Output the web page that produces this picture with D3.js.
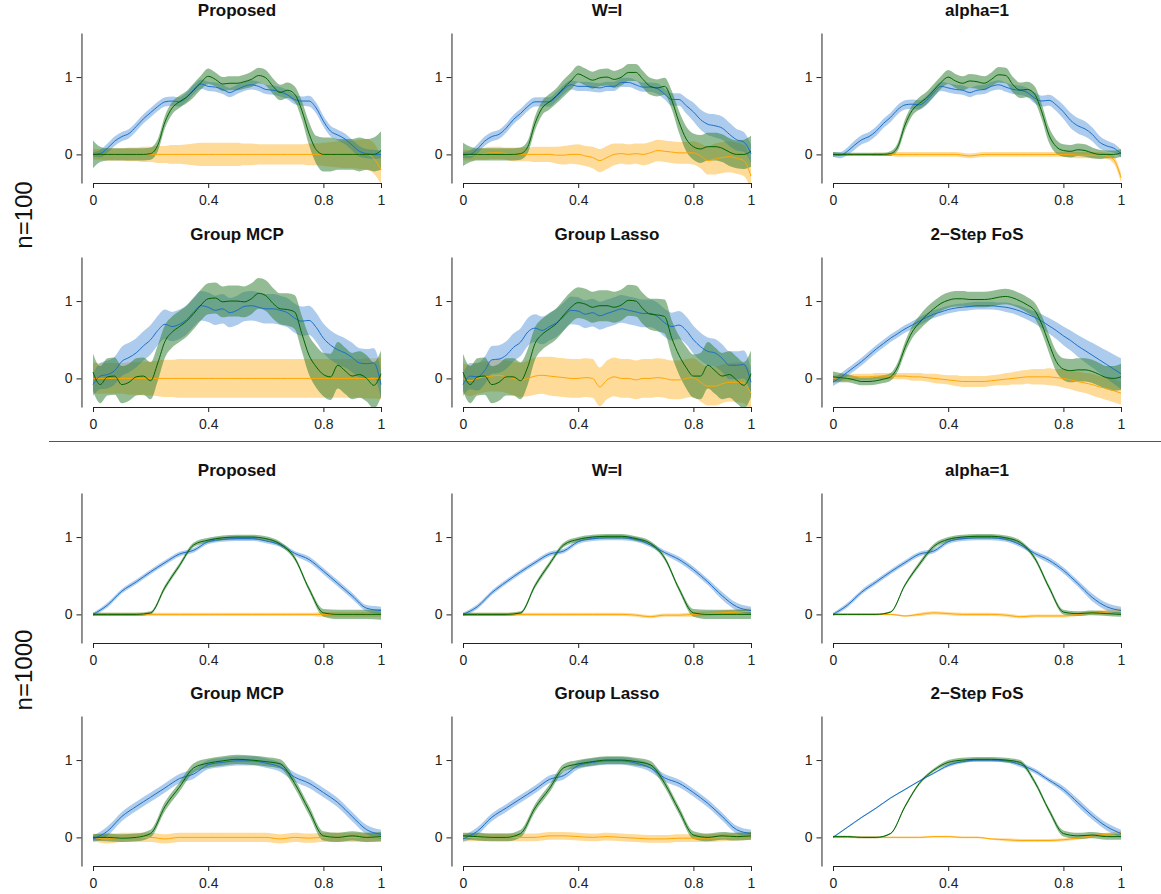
<!DOCTYPE html>
<html>
<head>
<meta charset="utf-8">
<script src="https://cdn.jsdelivr.net/npm/d3@7"></script>
<style>
  body { margin: 0; background: #fff; }
  text { font-family: "Liberation Sans", Arial, sans-serif; }
</style>
</head>
<body>
<div id="chart"></div>
<script>
// ---- labels ----
const panelTitles = ["Proposed", "W=I", "alpha=1", "Group MCP", "Group Lasso", "2\u2212Step FoS"];
const sampleSizes = ["n=100", "n=1000"];
const xTicks = [0, 0.4, 0.8, 1];
const yTicks = [0, 1];

// ---- n = 100 (grid step 0.025) : mean and band half-width ----
const n100ProposedBlue = [0.00,0.01,0.08,0.17,0.23,0.27,0.36,0.46,0.54,0.62, 0.68,0.69,0.68,0.74,0.84,0.91,0.88,0.87,0.84,0.80, 0.84,0.88,0.90,0.88,0.84,0.83,0.81,0.77,0.71,0.69, 0.69,0.60,0.43,0.30,0.25,0.20,0.12,0.04,0.01,0.00, 0.00];
const n100ProposedBlueW = [0.03,0.05,0.06,0.06,0.06,0.06,0.06,0.06,0.06,0.06, 0.06,0.06,0.06,0.06,0.06,0.06,0.06,0.06,0.06,0.06, 0.06,0.06,0.06,0.06,0.06,0.06,0.06,0.06,0.06,0.06, 0.07,0.07,0.07,0.07,0.07,0.07,0.07,0.07,0.06,0.06, 0.05];
const n100ProposedGreen = [0,0,0,0,0,0,0,0,0.01,0.12, 0.42,0.60,0.68,0.74,0.83,0.93,1.01,0.97,0.91,0.92, 0.92,0.94,0.97,1.02,0.99,0.88,0.80,0.83,0.78,0.57, 0.27,0.06,0,0,0,0,0,0,0,0, 0.05];
const n100ProposedGreenW = [0.18,0.10,0.08,0.08,0.08,0.08,0.08,0.08,0.08,0.08, 0.08,0.08,0.08,0.08,0.09,0.09,0.10,0.09,0.09,0.09, 0.09,0.09,0.10,0.10,0.10,0.10,0.10,0.10,0.10,0.12, 0.15,0.18,0.22,0.22,0.20,0.20,0.20,0.22,0.20,0.22, 0.25];
const n100ProposedOrange = [0,0,0,0,0,0,0,0,0,0, 0,0,0,0,0,0,0,0,0,0, 0,0,0,0,0,0,0,0,0,0, 0,0,0,0,0,0,0,0,0,-0.05, -0.20];
const n100ProposedOrangeW = [0.07,0.07,0.08,0.08,0.08,0.09,0.09,0.10,0.10,0.11, 0.11,0.12,0.12,0.13,0.14,0.15,0.15,0.15,0.15,0.15, 0.15,0.14,0.14,0.13,0.13,0.13,0.13,0.13,0.13,0.13, 0.14,0.14,0.15,0.16,0.17,0.18,0.18,0.19,0.20,0.20, 0.18];

const n100WIBlue = [-0.01,0.00,0.07,0.17,0.23,0.26,0.34,0.45,0.53,0.62, 0.68,0.68,0.68,0.75,0.84,0.90,0.88,0.88,0.87,0.86, 0.88,0.88,0.93,0.93,0.90,0.87,0.87,0.85,0.78,0.71, 0.71,0.63,0.55,0.45,0.39,0.37,0.34,0.26,0.19,0.16, 0.01];
const n100WIBlueW = [0.04,0.05,0.06,0.06,0.06,0.06,0.06,0.06,0.06,0.06, 0.06,0.06,0.06,0.06,0.06,0.06,0.06,0.06,0.06,0.06, 0.06,0.06,0.06,0.06,0.06,0.06,0.06,0.07,0.07,0.08, 0.08,0.10,0.12,0.13,0.14,0.15,0.15,0.15,0.14,0.13, 0.12];
const n100WIGreen = [0,0,0,0,0,0,0,0,0.01,0.10, 0.40,0.60,0.68,0.76,0.86,0.95,1.04,1.00,0.96,0.99, 1.00,0.97,1.00,1.06,1.06,0.97,0.88,0.86,0.88,0.70, 0.42,0.20,0.10,0.07,0.10,0.10,0.08,0.03,0.00,0.00, 0.04];
const n100WIGreenW = [0.15,0.10,0.08,0.08,0.08,0.08,0.08,0.08,0.08,0.08, 0.09,0.09,0.10,0.10,0.11,0.11,0.11,0.11,0.11,0.11, 0.11,0.11,0.11,0.11,0.11,0.11,0.11,0.11,0.11,0.12, 0.14,0.16,0.17,0.18,0.18,0.18,0.18,0.18,0.18,0.19, 0.20];
const n100WIOrange = [-0.01,-0.01,0.00,0.01,0.02,0.02,0.01,0.00,0.00,0.00, 0.00,0.00,0.00,-0.01,-0.01,0.00,0.00,-0.02,-0.04,-0.08, -0.04,0.00,0.01,0.00,0.01,0.00,0.02,0.05,0.04,0.03, 0.02,0.02,0.02,-0.02,-0.08,-0.06,-0.04,-0.03,-0.05,-0.08, -0.28];
const n100WIOrangeW = [0.07,0.07,0.07,0.08,0.08,0.08,0.08,0.09,0.09,0.09, 0.10,0.10,0.10,0.11,0.12,0.12,0.13,0.13,0.14,0.15, 0.15,0.14,0.13,0.13,0.13,0.14,0.14,0.14,0.14,0.14, 0.14,0.14,0.15,0.16,0.18,0.20,0.20,0.20,0.20,0.20, 0.18];

const n100AlphaBlue = [0.00,-0.01,0.04,0.12,0.19,0.23,0.30,0.40,0.48,0.58, 0.64,0.65,0.64,0.70,0.80,0.88,0.86,0.84,0.83,0.80, 0.83,0.84,0.88,0.90,0.87,0.84,0.83,0.80,0.73,0.69, 0.70,0.64,0.55,0.44,0.37,0.33,0.26,0.16,0.11,0.08, 0.01];
const n100AlphaBlueW = [0.03,0.04,0.05,0.06,0.06,0.06,0.06,0.06,0.06,0.06, 0.06,0.06,0.06,0.06,0.06,0.06,0.06,0.06,0.06,0.06, 0.06,0.06,0.06,0.06,0.06,0.06,0.06,0.06,0.07,0.07, 0.07,0.08,0.09,0.10,0.10,0.10,0.09,0.08,0.07,0.06, 0.05];
const n100AlphaGreen = [0,0,0,0,0,0,0,0,0.01,0.10, 0.38,0.57,0.66,0.73,0.83,0.93,1.00,0.95,0.92,0.95, 0.94,0.92,0.97,1.03,1.02,0.90,0.83,0.84,0.78,0.55, 0.25,0.10,0.05,0.04,0.06,0.05,0.02,0.00,0.00,0.00, 0.02];
const n100AlphaGreenW = [0.03,0.02,0.02,0.02,0.02,0.02,0.02,0.02,0.03,0.05, 0.07,0.07,0.08,0.08,0.08,0.08,0.09,0.09,0.09,0.09, 0.09,0.09,0.09,0.10,0.10,0.10,0.10,0.10,0.10,0.10, 0.10,0.09,0.08,0.08,0.08,0.08,0.07,0.06,0.05,0.05, 0.05];
const n100AlphaOrange = [0,0,0,0,0,0,0,0,0,0, 0,0,0,0,0,0,0,0,-0.01,-0.02, -0.01,0,0,0,0,0,0,0,0,0, 0,0,0,0,-0.01,-0.01,-0.01,-0.01,-0.02,-0.07, -0.30];
const n100AlphaOrangeW = [0.01,0.01,0.01,0.01,0.01,0.01,0.02,0.02,0.02,0.03, 0.03,0.03,0.03,0.03,0.03,0.03,0.03,0.03,0.03,0.03, 0.03,0.03,0.03,0.03,0.03,0.03,0.03,0.03,0.03,0.03, 0.03,0.03,0.03,0.04,0.04,0.04,0.04,0.04,0.04,0.05, 0.06];

const n100MCPBlue = [-0.08,0.03,0.05,0.10,0.22,0.27,0.33,0.42,0.50,0.62, 0.70,0.67,0.70,0.76,0.86,0.94,0.92,0.88,0.90,0.85, 0.88,0.93,0.94,0.92,0.90,0.90,0.88,0.85,0.78,0.74, 0.75,0.66,0.52,0.43,0.37,0.33,0.27,0.20,0.19,0.20, -0.08];
const n100MCPBlueW = [0.15,0.17,0.18,0.18,0.19,0.19,0.19,0.19,0.19,0.19, 0.19,0.19,0.19,0.19,0.19,0.19,0.19,0.19,0.19,0.19, 0.19,0.19,0.19,0.19,0.19,0.19,0.19,0.19,0.19,0.19, 0.19,0.19,0.19,0.19,0.19,0.19,0.19,0.19,0.19,0.19, 0.18];
const n100MCPGreen = [0.08,-0.08,0.02,0.03,-0.08,-0.05,0.02,0.03,-0.03,0.20, 0.48,0.60,0.67,0.74,0.84,0.95,1.03,1.04,0.99,1.00, 1.00,0.99,1.03,1.10,1.07,0.97,0.90,0.89,0.86,0.58, 0.30,0.15,0.05,0.02,0.17,0.10,0.03,0.05,0.00,-0.09, 0.06];
const n100MCPGreenW = [0.24,0.24,0.24,0.24,0.24,0.24,0.24,0.24,0.24,0.23, 0.21,0.20,0.20,0.20,0.20,0.20,0.20,0.20,0.20,0.20, 0.20,0.20,0.20,0.20,0.20,0.20,0.20,0.21,0.22,0.23, 0.25,0.27,0.28,0.30,0.30,0.30,0.30,0.30,0.30,0.30, 0.30];
const n100MCPOrange = [0,0,0,0,0,0,0,0,0,0, 0,0,0,0,0,0,0,0,0,0, 0,0,0,0,0,0,0,0,0,0, 0,0,0,0,0,0,0,0,0,0, 0];
const n100MCPOrangeW = [0.20,0.20,0.20,0.20,0.20,0.21,0.21,0.22,0.22,0.23, 0.24,0.24,0.25,0.25,0.25,0.25,0.25,0.25,0.25,0.25, 0.25,0.25,0.25,0.25,0.25,0.25,0.25,0.25,0.25,0.25, 0.25,0.25,0.25,0.25,0.25,0.25,0.25,0.25,0.26,0.26, 0.27];

const n100LassoBlue = [-0.08,0.03,0.02,0.10,0.24,0.25,0.30,0.40,0.47,0.60, 0.65,0.62,0.67,0.72,0.80,0.88,0.87,0.83,0.85,0.81, 0.84,0.87,0.90,0.88,0.86,0.84,0.84,0.80,0.72,0.67, 0.69,0.62,0.50,0.41,0.35,0.33,0.26,0.17,0.17,0.18, -0.05];
const n100LassoBlueW = [0.15,0.17,0.18,0.18,0.18,0.18,0.18,0.18,0.18,0.18, 0.18,0.18,0.18,0.18,0.18,0.18,0.18,0.18,0.18,0.18, 0.18,0.18,0.18,0.18,0.18,0.18,0.18,0.18,0.18,0.18, 0.18,0.18,0.18,0.18,0.18,0.18,0.18,0.18,0.18,0.18, 0.18];
const n100LassoGreen = [0.08,-0.08,0.02,0.03,-0.08,-0.05,0.02,0.02,-0.03,0.15, 0.45,0.57,0.64,0.71,0.82,0.92,0.98,0.96,0.92,0.94, 0.94,0.92,0.95,1.01,1.00,0.90,0.83,0.82,0.80,0.52, 0.30,0.14,0.03,0.03,0.17,0.10,0.03,0.05,-0.02,-0.09, 0.06];
const n100LassoGreenW = [0.24,0.24,0.24,0.24,0.24,0.24,0.24,0.24,0.24,0.23, 0.21,0.20,0.20,0.20,0.20,0.20,0.20,0.20,0.20,0.20, 0.20,0.20,0.20,0.20,0.20,0.20,0.20,0.21,0.22,0.23, 0.25,0.27,0.28,0.30,0.30,0.30,0.30,0.30,0.30,0.30, 0.30];
const n100LassoOrange = [0.00,-0.03,0.00,0.02,0.03,0.04,0.02,0.00,-0.02,0.00, 0.03,0.04,0.03,0.02,0.01,0.00,0.00,0.01,0.00,-0.11, -0.02,0.02,0.00,0.00,-0.02,0.00,0.00,0.01,0.00,-0.02, -0.02,0.00,0.01,-0.05,-0.10,-0.10,-0.07,-0.05,-0.05,-0.06, -0.20];
const n100LassoOrangeW = [0.20,0.20,0.20,0.20,0.20,0.21,0.21,0.22,0.22,0.23, 0.24,0.24,0.25,0.25,0.25,0.25,0.25,0.25,0.25,0.25, 0.25,0.25,0.25,0.25,0.25,0.25,0.25,0.25,0.25,0.25, 0.25,0.25,0.25,0.25,0.25,0.25,0.25,0.25,0.26,0.26, 0.27];

const n100StepBlue = [-0.05,0.01,0.08,0.15,0.22,0.30,0.38,0.45,0.52,0.58, 0.64,0.69,0.74,0.79,0.83,0.86,0.89,0.91,0.92,0.93, 0.94,0.94,0.94,0.93,0.92,0.90,0.87,0.83,0.79,0.74, 0.68,0.62,0.55,0.49,0.42,0.36,0.30,0.24,0.18,0.12, 0.06];
const n100StepBlueW = [0.05,0.05,0.05,0.05,0.05,0.05,0.05,0.05,0.05,0.05, 0.05,0.05,0.05,0.05,0.05,0.05,0.05,0.05,0.05,0.05, 0.05,0.05,0.05,0.05,0.06,0.06,0.07,0.07,0.08,0.09, 0.10,0.11,0.12,0.13,0.14,0.15,0.16,0.17,0.18,0.19, 0.20];
const n100StepGreen = [0.02,0.01,0.00,-0.02,-0.04,-0.04,-0.03,-0.01,0.02,0.15, 0.40,0.60,0.72,0.82,0.90,0.97,1.01,1.03,1.03,1.02, 1.02,1.02,1.03,1.05,1.06,1.04,1.00,0.95,0.88,0.70, 0.45,0.22,0.12,0.10,0.11,0.11,0.09,0.05,0.01,0.00, 0.02];
const n100StepGreenW = [0.07,0.06,0.05,0.05,0.05,0.05,0.05,0.05,0.05,0.06, 0.07,0.08,0.09,0.10,0.10,0.10,0.10,0.10,0.10,0.10, 0.10,0.10,0.10,0.10,0.10,0.10,0.10,0.10,0.10,0.11, 0.12,0.13,0.14,0.15,0.15,0.15,0.15,0.15,0.15,0.16, 0.17];
const n100StepOrange = [0.00,0.01,0.01,0.02,0.02,0.02,0.03,0.03,0.03,0.03, 0.03,0.02,0.02,0.01,0.00,-0.01,-0.02,-0.03,-0.04,-0.04, -0.04,-0.04,-0.03,-0.02,-0.01,0.00,0.01,0.02,0.02,0.02, 0.02,0.01,0.00,-0.02,-0.04,-0.06,-0.08,-0.11,-0.13,-0.16, -0.19];
const n100StepOrangeW = [0.04,0.04,0.04,0.04,0.04,0.04,0.04,0.04,0.04,0.04, 0.04,0.05,0.05,0.05,0.06,0.06,0.06,0.07,0.07,0.07, 0.07,0.07,0.07,0.07,0.08,0.08,0.09,0.09,0.10,0.10, 0.11,0.11,0.12,0.12,0.13,0.13,0.14,0.14,0.15,0.15, 0.15];

// ---- n = 1000 (grid step 0.05) ----
const n1000ProposedBlue = [0.00,0.12,0.30,0.42,0.55,0.67,0.78,0.83,0.94,0.97, 0.98,0.98,0.95,0.90,0.79,0.71,0.56,0.40,0.24,0.08, 0.05];
const n1000ProposedBlueW = [0.02,0.03,0.03,0.03,0.03,0.03,0.03,0.03,0.03,0.03, 0.03,0.03,0.03,0.03,0.03,0.04,0.04,0.04,0.04,0.04, 0.05];
const n1000ProposedGreen = [0,0,0,0,0.02,0.35,0.63,0.90,0.96,0.99, 1.00,1.00,0.98,0.91,0.73,0.33,0.02,0,0,0, 0];
const n1000ProposedGreenW = [0.02,0.02,0.02,0.02,0.02,0.03,0.03,0.03,0.03,0.03, 0.03,0.03,0.03,0.03,0.03,0.03,0.05,0.06,0.06,0.06, 0.07];
const n1000ProposedOrange = [0,0,0,0,0,0,0,0,0,0, 0,0,0,0,0,0,0,0,0,0, 0];
const n1000ProposedOrangeW = [0.02,0.02,0.02,0.02,0.02,0.02,0.02,0.02,0.02,0.02, 0.02,0.02,0.02,0.02,0.02,0.02,0.03,0.03,0.03,0.03, 0.03];

const n1000WIBlue = [0.00,0.10,0.28,0.42,0.55,0.67,0.78,0.82,0.94,0.98, 0.99,0.99,0.97,0.90,0.80,0.71,0.58,0.42,0.24,0.10, 0.05];
const n1000WIBlueW = [0.02,0.03,0.03,0.03,0.03,0.03,0.03,0.03,0.03,0.03, 0.03,0.03,0.03,0.03,0.03,0.04,0.04,0.04,0.05,0.05, 0.05];
const n1000WIGreen = [0,0,0,0,0.02,0.37,0.65,0.90,0.97,1.00, 1.01,1.01,0.98,0.92,0.73,0.33,0.02,0,0,0, 0];
const n1000WIGreenW = [0.02,0.02,0.02,0.02,0.02,0.03,0.03,0.03,0.03,0.03, 0.03,0.03,0.03,0.03,0.03,0.03,0.05,0.06,0.06,0.06, 0.06];
const n1000WIOrange = [0,0,0,0,0,0,0,0,0,0, 0,0,-0.01,-0.03,-0.01,-0.01,0,0.01,0.02,0.03, 0.04];
const n1000WIOrangeW = [0.02,0.02,0.02,0.02,0.02,0.02,0.02,0.02,0.02,0.02, 0.02,0.02,0.02,0.02,0.02,0.02,0.03,0.03,0.03,0.04, 0.04];

const n1000AlphaBlue = [0.00,0.12,0.29,0.42,0.55,0.67,0.78,0.82,0.94,0.98, 0.99,0.99,0.97,0.90,0.79,0.70,0.57,0.40,0.22,0.10, 0.05];
const n1000AlphaBlueW = [0.02,0.03,0.03,0.03,0.03,0.03,0.03,0.03,0.03,0.03, 0.03,0.03,0.03,0.03,0.03,0.04,0.04,0.04,0.05,0.05, 0.05];
const n1000AlphaGreen = [0,0,0,0,0.03,0.38,0.65,0.88,0.97,1.00, 1.01,1.01,0.99,0.93,0.73,0.35,0.03,0.01,0.02,0.01, 0.00];
const n1000AlphaGreenW = [0.01,0.01,0.01,0.01,0.01,0.02,0.03,0.03,0.03,0.03, 0.03,0.03,0.03,0.03,0.03,0.03,0.03,0.03,0.03,0.03, 0.03];
const n1000AlphaOrange = [0,0,0,0,0,-0.02,0,0.02,0.01,0, 0,0,-0.01,-0.03,-0.02,-0.02,-0.02,0,0.02,0.03, 0.05];
const n1000AlphaOrangeW = [0.01,0.01,0.01,0.01,0.01,0.01,0.02,0.02,0.02,0.02, 0.02,0.02,0.02,0.02,0.02,0.02,0.02,0.02,0.02,0.03, 0.03];

const n1000MCPBlue = [-0.02,0.08,0.27,0.40,0.52,0.64,0.76,0.82,0.94,0.97, 0.99,0.99,0.96,0.91,0.78,0.70,0.58,0.45,0.27,0.10, 0.04];
const n1000MCPBlueW = [0.04,0.06,0.06,0.06,0.06,0.06,0.06,0.06,0.06,0.06, 0.06,0.06,0.06,0.06,0.06,0.06,0.06,0.06,0.06,0.06, 0.06];
const n1000MCPGreen = [0,0,-0.01,0,0.05,0.40,0.65,0.90,0.96,0.99, 1.01,1.00,0.98,0.95,0.70,0.35,0.02,0,0.02,0, 0.01];
const n1000MCPGreenW = [0.04,0.05,0.05,0.05,0.05,0.06,0.06,0.06,0.06,0.06, 0.06,0.06,0.06,0.06,0.06,0.06,0.06,0.06,0.06,0.06, 0.06];
const n1000MCPOrange = [0,-0.02,0,0,0,-0.02,0,0,0,0, 0,0,0,-0.02,0,-0.01,0,0,0,0, 0];
const n1000MCPOrangeW = [0.05,0.06,0.06,0.06,0.06,0.06,0.06,0.06,0.06,0.06, 0.06,0.06,0.06,0.06,0.06,0.06,0.06,0.06,0.06,0.06, 0.06];

const n1000LassoBlue = [-0.02,0.08,0.26,0.38,0.50,0.62,0.75,0.80,0.93,0.97, 0.99,0.99,0.96,0.90,0.77,0.70,0.58,0.44,0.27,0.10, 0.05];
const n1000LassoBlueW = [0.04,0.05,0.05,0.05,0.05,0.05,0.05,0.05,0.05,0.05, 0.05,0.05,0.05,0.05,0.05,0.05,0.05,0.05,0.05,0.05, 0.05];
const n1000LassoGreen = [0.02,0.01,0,0,0.05,0.38,0.63,0.90,0.95,0.98, 1.00,1.00,0.98,0.94,0.70,0.35,0.03,0,0.02,0.01, 0.02];
const n1000LassoGreenW = [0.04,0.05,0.05,0.05,0.05,0.05,0.05,0.05,0.05,0.05, 0.05,0.05,0.05,0.05,0.05,0.05,0.05,0.05,0.05,0.05, 0.05];
const n1000LassoOrange = [0,0,0,0,0,0,0.02,0.02,0.01,0, 0.01,0,-0.01,-0.02,-0.02,-0.01,-0.01,-0.01,0,0.01, 0.02];
const n1000LassoOrangeW = [0.05,0.05,0.05,0.05,0.05,0.05,0.05,0.05,0.05,0.05, 0.05,0.05,0.05,0.05,0.05,0.05,0.05,0.05,0.05,0.05, 0.05];

const n1000StepBlue = [0.00,0.13,0.26,0.38,0.51,0.62,0.73,0.83,0.93,0.98, 1.00,1.00,0.99,0.94,0.86,0.74,0.62,0.45,0.28,0.14, 0.05];
const n1000StepBlueW = [0.01,0.01,0.01,0.01,0.01,0.01,0.01,0.01,0.02,0.02, 0.02,0.02,0.02,0.03,0.03,0.03,0.04,0.05,0.05,0.05, 0.05];
const n1000StepGreen = [0.01,0.01,0,0,0.05,0.40,0.70,0.87,0.97,1.00, 1.01,1.01,1.00,0.97,0.72,0.35,0.05,0.02,0.03,0.01, 0.01];
const n1000StepGreenW = [0.01,0.01,0.01,0.01,0.01,0.02,0.02,0.02,0.03,0.03, 0.03,0.03,0.03,0.03,0.03,0.03,0.04,0.04,0.04,0.04, 0.04];
const n1000StepOrange = [0,0,0,0,0,0,0,0.01,0.01,0, 0,-0.02,-0.03,-0.04,-0.04,-0.04,-0.03,-0.01,0.02,0.04, 0.06];
const n1000StepOrangeW = [0.01,0.01,0.01,0.01,0.01,0.01,0.01,0.01,0.01,0.01, 0.01,0.01,0.02,0.02,0.02,0.02,0.02,0.02,0.02,0.02, 0.02];

// panel order: row by row, left to right
const panels = [
  [n100ProposedOrange, n100ProposedOrangeW, n100ProposedBlue, n100ProposedBlueW, n100ProposedGreen, n100ProposedGreenW],
  [n100WIOrange, n100WIOrangeW, n100WIBlue, n100WIBlueW, n100WIGreen, n100WIGreenW],
  [n100AlphaOrange, n100AlphaOrangeW, n100AlphaBlue, n100AlphaBlueW, n100AlphaGreen, n100AlphaGreenW],
  [n100MCPOrange, n100MCPOrangeW, n100MCPBlue, n100MCPBlueW, n100MCPGreen, n100MCPGreenW],
  [n100LassoOrange, n100LassoOrangeW, n100LassoBlue, n100LassoBlueW, n100LassoGreen, n100LassoGreenW],
  [n100StepOrange, n100StepOrangeW, n100StepBlue, n100StepBlueW, n100StepGreen, n100StepGreenW],
  [n1000ProposedOrange, n1000ProposedOrangeW, n1000ProposedBlue, n1000ProposedBlueW, n1000ProposedGreen, n1000ProposedGreenW],
  [n1000WIOrange, n1000WIOrangeW, n1000WIBlue, n1000WIBlueW, n1000WIGreen, n1000WIGreenW],
  [n1000AlphaOrange, n1000AlphaOrangeW, n1000AlphaBlue, n1000AlphaBlueW, n1000AlphaGreen, n1000AlphaGreenW],
  [n1000MCPOrange, n1000MCPOrangeW, n1000MCPBlue, n1000MCPBlueW, n1000MCPGreen, n1000MCPGreenW],
  [n1000LassoOrange, n1000LassoOrangeW, n1000LassoBlue, n1000LassoBlueW, n1000LassoGreen, n1000LassoGreenW],
  [n1000StepOrange, n1000StepOrangeW, n1000StepBlue, n1000StepBlueW, n1000StepGreen, n1000StepGreenW]
];

// orange, blue, green (drawn in that order)
const fills = ["#ffa500", "#4a8fd8", "#2a7a2a"];
const fillOpacity = [0.4, 0.45, 0.5];
const strokes = ["#ffa500", "#1c6fc7", "#006400"];

const width = 1161;
const height = 894;
const colLeft = [93, 463, 833];
const rowTop = [33, 257, 493, 716];
const plotW = 288;
const plotH = 150;

const svg = d3.select("#chart")
  .append("svg")
  .attr("width", width)
  .attr("height", height);

const toPoints = (mean, w) => mean.map((m, i) => ({ t: i / (mean.length - 1), m: m, lo: m - w[i], hi: m + w[i] }));

panels.forEach((series, i) => {
  const row = Math.floor(i / 3);
  const col = i % 3;
  const x = d3.scaleLinear().domain([0, 1]).range([colLeft[col], colLeft[col] + plotW]);
  const y = d3.scaleLinear().domain([-0.37, 1.57]).range([rowTop[row] + plotH, rowTop[row]]);

  const g = svg.append("g");

  g.append("clipPath")
    .attr("id", "clip" + i)
    .append("rect")
    .attr("x", x(-0.04))
    .attr("y", y(1.57))
    .attr("width", x(1.04) - x(-0.04))
    .attr("height", y(-0.37) - y(1.57));

  const plot = g.append("g").attr("clip-path", `url(#clip${i})`);

  const area = d3.area()
    .x((d) => x(d.t))
    .y0((d) => y(d.lo))
    .y1((d) => y(d.hi))
    .curve(d3.curveMonotoneX);

  const line = d3.line()
    .x((d) => x(d.t))
    .y((d) => y(d.m))
    .curve(d3.curveMonotoneX);

  const pts = [0, 1, 2].map((k) => toPoints(series[k * 2], series[k * 2 + 1]));

  pts.forEach((p, k) => {
    plot.append("path")
      .attr("d", area(p))
      .attr("fill", fills[k])
      .attr("fill-opacity", fillOpacity[k])
      .attr("stroke", "none");
  });

  pts.forEach((p, k) => {
    plot.append("path")
      .attr("d", line(p))
      .attr("fill", "none")
      .attr("stroke", strokes[k])
      .attr("stroke-width", 1);
  });

  // axes
  g.append("g")
    .attr("transform", `translate(${x(-0.04)},0)`)
    .call(d3.axisLeft(y).tickValues(yTicks).tickFormat(d3.format("~g")).tickSize(5).tickSizeOuter(0).tickPadding(4))
    .call((a) => a.selectAll("text").attr("font-size", 14).attr("fill", "#222").attr("font-family", "Liberation Sans, Arial, sans-serif"))
    .call((a) => a.selectAll("path,line").attr("stroke", "#222"));

  g.append("g")
    .attr("transform", `translate(0,${rowTop[row] + plotH})`)
    .call(d3.axisBottom(x).tickValues(xTicks).tickFormat(d3.format("~g")).tickSize(5).tickSizeOuter(0).tickPadding(7))
    .call((a) => a.selectAll("text").attr("font-size", 14).attr("fill", "#222").attr("font-family", "Liberation Sans, Arial, sans-serif"))
    .call((a) => a.selectAll("path,line").attr("stroke", "#222"));

  g.append("text")
    .attr("x", x(0.5))
    .attr("y", rowTop[row] - 17)
    .attr("text-anchor", "middle")
    .attr("font-size", 17)
    .attr("font-weight", "bold")
    .attr("fill", "#111")
    .text(panelTitles[i % 6]);
});

// divider between the two sample sizes
svg.append("line")
  .attr("x1", 49).attr("x2", width)
  .attr("y1", 441.5).attr("y2", 441.5)
  .attr("stroke", "#555")
  .attr("stroke-width", 1);

const rowLabelY = [215, 670];
sampleSizes.forEach((s, i) => {
  svg.append("text")
    .attr("transform", `translate(32,${rowLabelY[i]}) rotate(-90)`)
    .attr("text-anchor", "middle")
    .attr("font-size", 24)
    .attr("fill", "#111")
    .text(s);
});
</script>
</body>
</html>
